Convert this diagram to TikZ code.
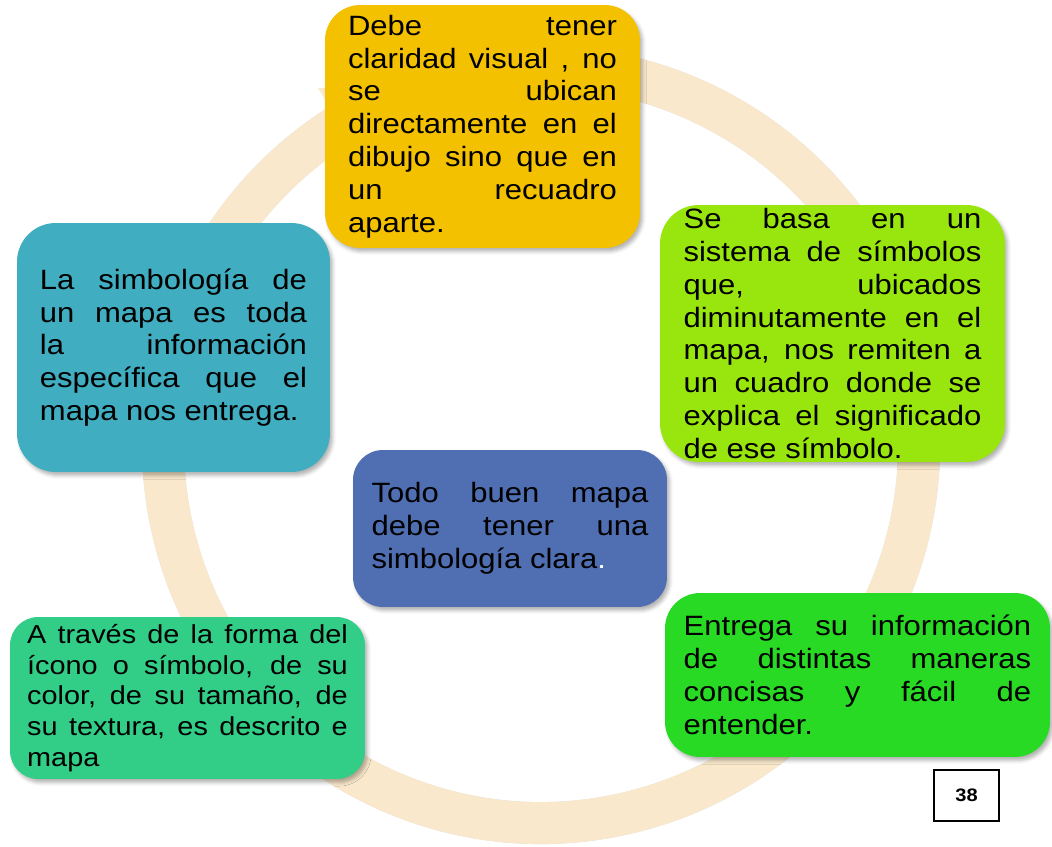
\documentclass[tikz,border=0pt]{standalone}
\usepackage{fontspec}
\setmainfont{Liberation Sans}[FakeStretch=1.11]
\usepackage{tikz}
\usetikzlibrary{shadows.blur}
\tolerance=10000
\hbadness=10000
\definecolor{anillo}{RGB}{249,232,203}
\definecolor{amarillo}{RGB}{244,193,0}
\definecolor{lima}{RGB}{153,230,15}
\definecolor{turquesa}{RGB}{64,173,192}
\definecolor{azul}{RGB}{80,110,178}
\definecolor{verde}{RGB}{40,218,36}
\definecolor{esmeralda}{RGB}{50,205,135}

\begin{document}
\begin{tikzpicture}[x=0.02cm, y=-0.02cm,
  caja/.style={inner sep=0pt, align=justify, text=black,
    font=\fontsize{15.9}{18.7}\selectfont,
    blur shadow={shadow xshift=1.5pt, shadow yshift=-2pt, shadow blur radius=2pt, shadow opacity=30}},
  aro/.style={anillo, line width=0.84cm}]
  \useasboundingbox (0,0) rectangle (1052,846);
  \coordinate (eje) at (541,445);
  \begin{scope}[xshift=1.5pt, yshift=-2pt]
    \draw[black!60, opacity=0.25, line width=0.84cm] (eje) ++(-105:378) arc[start angle=-105, end angle=238, radius=378];
  \end{scope}
  \draw[aro] (eje) ++(-105:378) arc[start angle=-105, end angle=238, radius=378];
  \fill[anillo, shift={(eje)}] (238:421) -- (250:378) -- (238:335) -- cycle;

  \node[caja, fill=azul, rounded corners=17pt, minimum width=6.28cm, minimum height=3.14cm, text width=157.6pt] (centro) at (510,528.5)
    {Todo buen mapa\linebreak debe tener una\linebreak simbología clara\textcolor{white}{.}};
  \node[caja, fill=amarillo, rounded corners=20pt, minimum width=6.3cm, minimum height=4.86cm, text width=153pt] (claridad) at (482.5,126.5)
    {Debe tener\linebreak claridad visual , no\linebreak se ubican\linebreak directamente en el\linebreak dibujo sino que en\linebreak un recuadro\linebreak aparte.};
  \node[caja, fill=lima, rounded corners=22pt, minimum width=6.9cm, minimum height=5.14cm, text width=169.5pt] (sistema) at (832.5,333.5)
    {Se basa en un\linebreak sistema de símbolos\linebreak que, ubicados\linebreak diminutamente en el\linebreak mapa, nos remiten a\linebreak un cuadro donde se\linebreak explica el significado\linebreak de ese símbolo.};
  \node[caja, fill=verde, rounded corners=20pt, minimum width=7.7cm, minimum height=3.28cm, text width=197.8pt] (entrega) at (857.5,675)
    {Entrega su información\linebreak de distintas maneras\linebreak concisas y fácil de\linebreak entender.};
  \node[caja, fill=esmeralda, rounded corners=16pt, minimum width=7.1cm, minimum height=3.24cm, text width=182.5pt,
    font=\fontsize{14.8}{17.5}\selectfont] (forma) at (187.5,698)
    {A través de la forma del\linebreak ícono o símbolo, de su\linebreak color, de su tamaño, de\linebreak su textura, es descrito e\linebreak mapa};
  \node[caja, fill=turquesa, rounded corners=22pt, minimum width=6.26cm, minimum height=4.98cm, text width=152pt] (simbologia) at (173.5,347.5)
    {La simbología de\linebreak un mapa es toda\linebreak la información\linebreak específica que el\linebreak mapa nos entrega.};

  \node[draw=black, line width=0.9pt, minimum width=1.3cm, minimum height=1.02cm, font=\bfseries\fontsize{10.3}{12}\selectfont] (pagina) at (966.5,795.5) {38};
\end{tikzpicture}
\end{document}
